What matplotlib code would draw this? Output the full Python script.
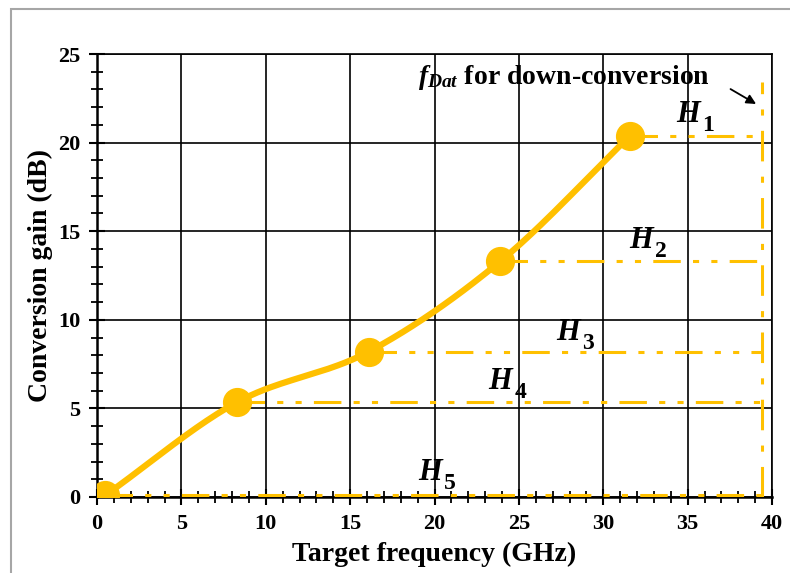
import numpy as np
import matplotlib.pyplot as plt
from matplotlib.patches import Rectangle
from matplotlib.ticker import MultipleLocator

plt.rcParams['font.family'] = ['Liberation Serif', 'DejaVu Serif']
plt.rcParams['mathtext.fontset'] = 'custom'
plt.rcParams['mathtext.it'] = 'Liberation Serif:bold:italic'
plt.rcParams['mathtext.rm'] = 'Liberation Serif:bold'
plt.rcParams['mathtext.bf'] = 'Liberation Serif:bold'

freq = np.array([0.5, 8.3, 16.1, 23.9, 31.6])
gain = np.array([0.1, 5.35, 8.2, 13.3, 20.4])
f_dat = 39.4
f_dat_top = 23.4
h_names = ['1', '2', '3', '4', '5']
h_label_x = [34.3, 31.5, 27.2, 23.2, 19.0]
h_label_y = [21.6, 14.5, 9.3, 6.5, 1.4]

orange = '#FFC000'


def catmull_rom(x, y, n=40):
    # Excel-like smoothed line through the data points
    px = np.concatenate([[2 * x[0] - x[1]], x, [2 * x[-1] - x[-2]]])
    py = np.concatenate([[2 * y[0] - y[1]], y, [2 * y[-1] - y[-2]]])
    t = np.linspace(0, 1, n)
    xs, ys = [], []
    for i in range(1, len(px) - 2):
        for p, out in ((px, xs), (py, ys)):
            p0, p1, p2, p3 = p[i - 1], p[i], p[i + 1], p[i + 2]
            out.extend(0.5 * ((2 * p1) + (-p0 + p2) * t
                              + (2 * p0 - 5 * p1 + 4 * p2 - p3) * t ** 2
                              + (-p0 + 3 * p1 - 3 * p2 + p3) * t ** 3))
    return np.array(xs), np.array(ys)


fig = plt.figure(figsize=(7.9, 5.73), dpi=100)
fig.patches.append(Rectangle((11 / 790, -0.1), 1.2, 1 - 9 / 573 + 0.1,
                             transform=fig.transFigure, fill=False,
                             edgecolor='#A6A6A6', linewidth=1.5))
ax = fig.add_axes([97 / 790, 1 - 497 / 573, 675 / 790, 443 / 573])

# horizontal levels and vertical f_Dat marker
for fx, g in zip(freq, gain):
    ax.plot([fx, f_dat], [g, g], color=orange, lw=2.2,
            dashes=(9, 4, 2, 4, 2, 4), zorder=3)
ax.plot([f_dat, f_dat], [0, f_dat_top], color=orange, lw=2.2,
        dashes=(10, 5, 2, 5), zorder=3)

sx, sy = catmull_rom(freq, gain)
ax.plot(sx, sy, color=orange, lw=4.5, zorder=4, solid_capstyle='round')
ax.plot(freq, gain, 'o', color=orange, ms=20, zorder=5)

for name, x, y in zip(h_names, h_label_x, h_label_y):
    ax.text(x, y, r'$H$', fontsize=22, ha='left', va='center', zorder=6)
    ax.annotate(name, xy=(x, y), xytext=(19, -8), textcoords='offset points',
                fontsize=17, fontweight='bold', ha='left', va='center',
                zorder=6)

ax.text(19.0, 23.7, r'$f_{Dat}$ for down-conversion', fontsize=20,
        fontweight='bold', ha='left', va='center', zorder=6)
ax.annotate('', xy=(39.2, 22.1), xytext=(37.4, 23.1),
            arrowprops=dict(arrowstyle='-|>', color='black', lw=1.3,
                            mutation_scale=14))

ax.set_xlim(0, 40)
ax.set_ylim(0, 25)
ax.xaxis.set_major_locator(MultipleLocator(5))
ax.yaxis.set_major_locator(MultipleLocator(5))
ax.xaxis.set_minor_locator(MultipleLocator(1))
ax.yaxis.set_minor_locator(MultipleLocator(1))
ax.grid(True, which='major', color='black', lw=1.2)
ax.set_axisbelow(True)
ax.tick_params(which='major', direction='inout', length=12, width=1.5,
               labelsize=16, pad=6)
ax.tick_params(which='minor', direction='inout', length=8, width=1.3)
ax.tick_params(top=False, right=False, which='both')
for lab in ax.get_xticklabels() + ax.get_yticklabels():
    lab.set_fontweight('bold')
for s in ax.spines.values():
    s.set_linewidth(1.2)
ax.spines['left'].set_linewidth(1.8)
ax.spines['bottom'].set_linewidth(1.8)

ax.set_xlabel('Target frequency (GHz)', fontsize=20, fontweight='bold', labelpad=6)
ax.set_ylabel('Conversion gain (dB)', fontsize=20, fontweight='bold', labelpad=4)

fig.savefig('out.png', dpi=100)
